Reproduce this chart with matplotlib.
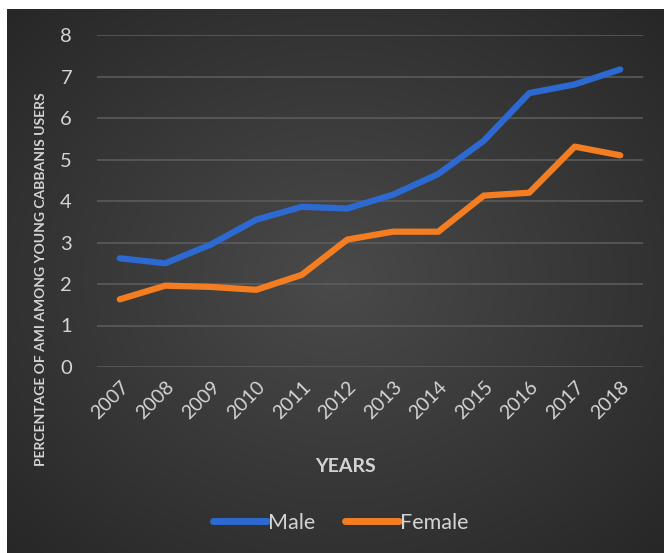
import matplotlib.pyplot as plt
import numpy as np

years = ["2007", "2008", "2009", "2010", "2011", "2012",
         "2013", "2014", "2015", "2016", "2017", "2018"]
male = [2.62, 2.5, 2.95, 3.55, 3.86, 3.82, 4.15, 4.65, 5.45, 6.6, 6.81, 7.17]
female = [1.63, 1.96, 1.93, 1.86, 2.22, 3.07, 3.26, 3.26, 4.13, 4.2, 5.31, 5.1]

W, H = 664, 553
fig = plt.figure(figsize=(W / 100, H / 100), dpi=100)
fig.patch.set_facecolor("white")

# dark panel with radial gradient
bg = fig.add_axes([7 / W, 0, (W - 7) / W, (H - 9) / H])
bg.axis("off")
gx, gy = np.meshgrid(np.linspace(0, 1, 300), np.linspace(0, 1, 300))
r = np.sqrt(((gx - 0.5) / 0.75) ** 2 + ((gy - 0.5) / 0.75) ** 2)
r = np.clip(r, 0, 1)
c0 = np.array([0x4a, 0x4a, 0x4a]) / 255
c1 = np.array([0x25, 0x25, 0x25]) / 255
img = c0[None, None, :] * (1 - r[..., None]) + c1[None, None, :] * r[..., None]
bg.imshow(img, extent=[0, 1, 0, 1], aspect="auto", origin="lower")
bg.set_xlim(0, 1)
bg.set_ylim(0, 1)

left, right = 97 / W, 643 / W
bottom, top = (H - 367) / H, (H - 35) / H
ax = fig.add_axes([left, bottom, right - left, top - bottom])
ax.patch.set_alpha(0)

x = np.arange(len(years))
ax.plot(x, male, color="#2c69d0", lw=4.5, solid_capstyle="round",
        solid_joinstyle="round", label="Male")
ax.plot(x, female, color="#f47d22", lw=4.5, solid_capstyle="round",
        solid_joinstyle="round", label="Female")

ax.set_xlim(-0.5, len(years) - 0.5)
ax.set_ylim(0, 8)
ax.set_yticks(range(0, 9))
ax.yaxis.grid(True, color="#5e5e5e", lw=1.1)
ax.set_axisbelow(True)
for s in ax.spines.values():
    s.set_visible(False)
ax.tick_params(length=0, colors="#d4d4d4")
font = "Lato"
txt = "#d4d4d4"
ax.set_yticklabels([str(v) for v in range(0, 9)], fontsize=14.5, family=font,
                   color=txt)
ax.tick_params(axis="y", pad=18)
ax.set_xticks(x)
ax.set_xticklabels(years, rotation=45, ha="right", rotation_mode="anchor",
                   fontsize=14, family=font, color=txt)
ax.tick_params(axis="x", pad=8)

fig.text(346 / W, 1 - 466 / H, "YEARS", ha="center", va="center",
         fontsize=14, fontweight="bold", family=font, color=txt)
fig.text(41 / W, 1 - 279 / H, "PERCENTAGE OF AMI AMONG YOUNG CABBANIS USERS",
         ha="center", va="center", rotation=90, fontsize=10,
         fontweight="bold", family=font, color=txt)

leg = fig.legend(loc="center", bbox_to_anchor=(341 / W, 1 - 523 / H), ncol=2,
                 frameon=False, handlelength=2.5,
                 handletextpad=0.05, columnspacing=1.4,
                 prop={"family": font, "size": 15.5})
for line in leg.get_lines():
    line.set_linewidth(5)
for t in leg.get_texts():
    t.set_color(txt)

fig.savefig("out.png", dpi=100)
